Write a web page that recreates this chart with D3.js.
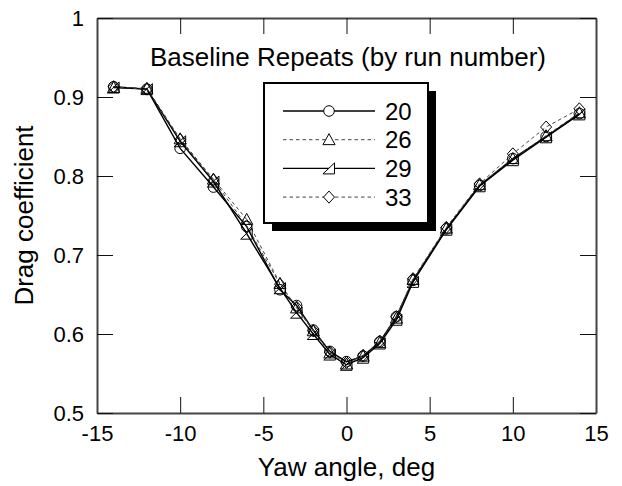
<!DOCTYPE html>
<html><head><meta charset="utf-8">
<script src="https://cdn.jsdelivr.net/npm/d3@7"></script>
<style>body{margin:0;background:#fff}svg text{font-family:"Liberation Sans",Arial,Helvetica,sans-serif;fill:#000}</style>
</head><body><svg id="c" width="622" height="486"></svg>
<script>
const yaw = [-14,-12,-10,-8,-6,-4,-3,-2,-1,0,1,2,3,4,6,8,10,12,14];
const run20 = [0.913,0.910,0.835,0.786,0.736,0.656,0.636,0.605,0.578,0.565,0.572,0.590,0.622,0.668,0.733,0.788,0.822,0.850,0.879];
const run26 = [0.912,0.911,0.847,0.796,0.745,0.664,0.633,0.604,0.576,0.562,0.572,0.589,0.620,0.669,0.734,0.789,0.822,0.851,0.880];
const run29 = [0.912,0.910,0.844,0.793,0.727,0.658,0.627,0.600,0.574,0.561,0.570,0.588,0.618,0.666,0.732,0.787,0.820,0.849,0.878];
const run33 = [0.913,0.910,0.846,0.795,0.737,0.663,0.634,0.604,0.577,0.564,0.573,0.591,0.622,0.670,0.735,0.790,0.828,0.862,0.885];
const runLabels = ["20","26","29","33"];
const xTicks = [-15,-10,-5,0,5,10,15];
const xTickLabels = ["-15","-10","-5","0","5","10","15"];
const yTicks = [0.5,0.6,0.7,0.8,0.9,1];
const yTickLabels = ["0.5","0.6","0.7","0.8","0.9","1"];
const title = "Baseline Repeats (by run number)";
const xTitle = "Yaw angle, deg";
const yTitle = "Drag coefficient";

const svg = d3.select("#c");
const L=97, R=596, T=18, B=413;
const x = d3.scaleLinear().domain([-15,15]).range([L,R]);
const y = d3.scaleLinear().domain([0.5,1]).range([B,T]);

const S = 11;
const shapes = {
  circle: g => g.append("circle").attr("r",5.3),
  tri: g => g.append("path").attr("d",`M0,${-S*0.55}L${S*0.55},${S*0.45}L${-S*0.55},${S*0.45}Z`),
  rtri: g => g.append("path").attr("d",`M${S*0.5},${-S*0.5}L${S*0.5},${S*0.5}L${-S*0.55},${S*0.5}Z`),
  diam: g => g.append("path").attr("d",`M0,${-S*0.55}L${S*0.5},0L0,${S*0.55}L${-S*0.5},0Z`)
};
const series = [
  {name:runLabels[0], vals:run20, shape:"circle", dash:null, color:"#000", w:1.4},
  {name:runLabels[1], vals:run26, shape:"tri", dash:"3.5,3", color:"#444", w:1},
  {name:runLabels[2], vals:run29, shape:"rtri", dash:null, color:"#000", w:1.4},
  {name:runLabels[3], vals:run33, shape:"diam", dash:"3.5,3", color:"#444", w:1}
];

const line = d3.line().x(d=>x(d[0])).y(d=>y(d[1]));
series.forEach(s=>{
  const pts = yaw.map((v,i)=>[v,s.vals[i]]);
  svg.append("path").datum(pts).attr("d",line).attr("fill","none")
    .attr("stroke",s.color).attr("stroke-width",s.w).attr("stroke-dasharray",s.dash);
});
series.forEach(s=>{
  const pts = yaw.map((v,i)=>[v,s.vals[i]]);
  pts.forEach(p=>{
    const g = svg.append("g").attr("transform",`translate(${x(p[0])},${y(p[1])})`)
      .attr("fill","none").attr("stroke","#000").attr("stroke-width",1);
    shapes[s.shape](g);
  });
});

const tl = 16;
const axB = svg.append("g").attr("transform",`translate(0,${B})`).call(d3.axisBottom(x).tickValues(xTicks).tickSizeInner(-tl).tickSizeOuter(0).tickPadding(12).tickFormat((d,i)=>xTickLabels[i]));
const axT = svg.append("g").attr("transform",`translate(0,${T})`).call(d3.axisTop(x).tickValues(xTicks).tickSizeInner(-tl).tickSizeOuter(0).tickFormat(""));
const axL = svg.append("g").attr("transform",`translate(${L},0)`).call(d3.axisLeft(y).tickValues(yTicks).tickSizeInner(-tl).tickSizeOuter(0).tickPadding(13).tickFormat((d,i)=>yTickLabels[i]));
const axR = svg.append("g").attr("transform",`translate(${R},0)`).call(d3.axisRight(y).tickValues(yTicks).tickSizeInner(-tl).tickSizeOuter(0).tickFormat(""));
[axB,axT,axL,axR].forEach(a=>{
  a.select(".domain").attr("stroke","#444").attr("stroke-width",2);
  a.selectAll(".tick line").attr("stroke","#111").attr("stroke-width",1);
  a.selectAll(".tick text").attr("font-size",22).attr("font-family","Liberation Sans, Arial, sans-serif").attr("fill","#000");
});

svg.append("text").attr("x",348).attr("y",66).attr("text-anchor","middle").attr("font-size",26).text(title);
svg.append("text").attr("x",(L+R)/2).attr("y",476).attr("text-anchor","middle").attr("font-size",26).text(xTitle);
svg.append("text").attr("transform",`translate(33,${(T+B)/2}) rotate(-90)`).attr("text-anchor","middle").attr("font-size",26).text(yTitle);

const lx=264, ly=83, lw=164, lh=140;
svg.append("rect").attr("x",lx+8).attr("y",ly+8).attr("width",lw).attr("height",lh).attr("fill","#000");
svg.append("rect").attr("x",lx).attr("y",ly).attr("width",lw).attr("height",lh).attr("fill","#fff").attr("stroke","#000").attr("stroke-width",2);
series.forEach((s,i)=>{
  const cy = 111 + i*28.7;
  svg.append("line").attr("x1",283).attr("x2",375).attr("y1",cy).attr("y2",cy)
    .attr("stroke",s.color).attr("stroke-width",s.w).attr("stroke-dasharray",s.dash);
  const g = svg.append("g").attr("transform",`translate(329,${cy})`).attr("fill","#fff").attr("stroke","#000").attr("stroke-width",1);
  shapes[s.shape](g);
  svg.append("text").attr("x",385).attr("y",cy+8.5).attr("font-size",24).text(s.name);
});
</script></body></html>
